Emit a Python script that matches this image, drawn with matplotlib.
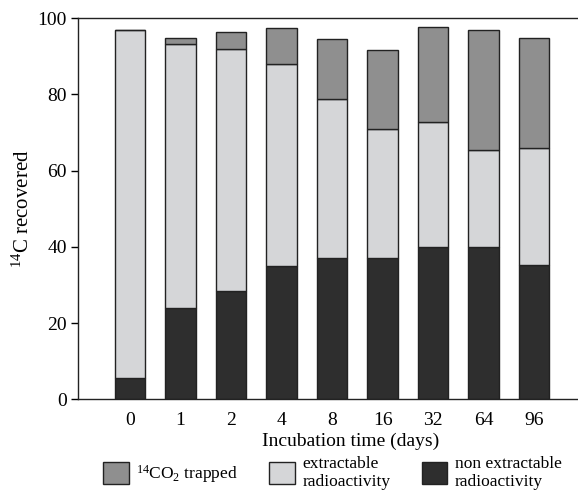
import numpy as np
import matplotlib
matplotlib.use('Agg')
import matplotlib.pyplot as plt
from matplotlib.patches import Patch

plt.rcParams['font.family'] = ['Liberation Serif', 'DejaVu Serif']
plt.rcParams['mathtext.fontset'] = 'custom'
plt.rcParams['mathtext.rm'] = 'Liberation Serif'
plt.rcParams['mathtext.it'] = 'Liberation Serif:italic'

# data
days = ['0', '1', '2', '4', '8', '16', '32', '64', '96']
non_extractable = [5.5, 24.0, 28.5, 34.9, 37.0, 37.0, 40.0, 40.0, 35.3]
extractable_top = [97.0, 93.3, 92.0, 88.1, 78.8, 70.9, 72.7, 65.5, 65.9]
total = [97.0, 94.9, 96.3, 97.4, 94.6, 91.6, 97.6, 96.9, 94.8]

non_extractable = np.array(non_extractable)
extractable = np.array(extractable_top) - non_extractable
co2 = np.array(total) - np.array(extractable_top)

c_co2 = '#8f8f8f'
c_ext = '#d5d6d8'
c_non = '#2e2e2e'
edge = '#222222'

fig = plt.figure(figsize=(5.78, 4.92), dpi=100)
ax = fig.add_axes([0.135, 0.1884, 0.865, 0.7746])

x = np.arange(len(days))
w = 0.6
ax.bar(x, non_extractable, w, color=c_non, edgecolor=edge, linewidth=1)
ax.bar(x, extractable, w, bottom=non_extractable, color=c_ext, edgecolor=edge, linewidth=1)
ax.bar(x, co2, w, bottom=non_extractable + extractable, color=c_co2, edgecolor=edge, linewidth=1)

ax.set_xlim(-1.03, 8.87)
ax.set_ylim(0, 100)
ax.set_yticks([0, 20, 40, 60, 80, 100])
ax.set_xticks(x)
ax.set_xticklabels(days)
ax.tick_params(axis='x', length=0, pad=9, labelsize=14)
ax.set_xticks([1, 3, 5, 7], minor=True)
ax.tick_params(axis='x', which='minor', length=5, direction='out', width=1)
ax.tick_params(axis='y', length=5, direction='out', width=1, labelsize=14, pad=3)

ax.spines['right'].set_visible(False)
for s in ['left', 'bottom', 'top']:
    ax.spines[s].set_linewidth(1)
    ax.spines[s].set_color('#222222')

ax.set_xlabel('Incubation time (days)', fontsize=14)
ax.xaxis.set_label_coords(0.546, -0.088)
ax.set_ylabel('$^{14}$C recovered', fontsize=15, labelpad=3)

handles = [Patch(facecolor=c_co2, edgecolor=edge),
           Patch(facecolor=c_ext, edgecolor=edge),
           Patch(facecolor=c_non, edgecolor=edge)]
labels = ['$^{14}$CO$_2$ trapped', 'extractable\nradioactivity', 'non extractable\nradioactivity']
fig.legend(handles, labels, loc='lower left', bbox_to_anchor=(0.155, -0.024), ncol=3,
           frameon=False, fontsize=12.5, handlelength=1.45, handleheight=1.5,
           handletextpad=0.45, columnspacing=1.8, labelspacing=0.2, borderpad=0.3)

fig.savefig('out.png', dpi=100)
